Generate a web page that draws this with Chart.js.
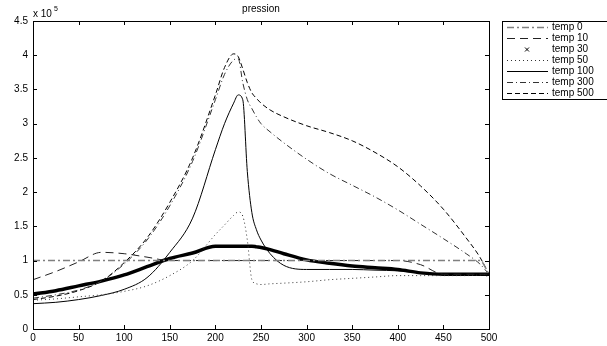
<!DOCTYPE html>
<html>
<head>
<meta charset="utf-8">
<script src="https://cdn.jsdelivr.net/npm/chart.js@4"></script>
<style>
  html, body { margin: 0; padding: 0; background: #fff; }
  #c { display: block; }
</style>
</head>
<body>
<canvas id="c" width="607" height="346"></canvas>
<script>
// abscisse commune (0..500) et pression en unités de 10^5
const xs = [0, 25, 50, 75, 100, 125, 150, 175, 200, 210, 220, 225, 230, 235, 240, 245, 250, 260, 275, 300, 325, 350, 375, 400, 425, 450, 475, 490, 500];

const temp0   = [1, 1, 1, 1, 1, 1, 1, 1, 1, 1, 1, 1, 1, 1, 1, 1, 1, 1, 1, 1, 1, 1, 1, 1, 1, 1, 1, 1, 0.8];
const temp10  = [0.72, 0.84, 0.98, 1.12, 1.1, 1.05, 1.0, 1.0, 1.0, 1.0, 1.0, 1.0, 1.0, 1.0, 1.0, 1.0, 1.0, 1.0, 1.0, 1.0, 1.0, 1.0, 1.0, 1.0, 0.94, 0.8, 0.8, 0.8, 0.8];
const temp30X = [500];
const temp30  = [0.8];
const temp50  = [0.42, 0.44, 0.47, 0.5, 0.55, 0.63, 0.78, 1.0, 1.38, 1.52, 1.66, 1.71, 1.65, 1.3, 0.72, 0.66, 0.65, 0.66, 0.67, 0.69, 0.72, 0.74, 0.76, 0.78, 0.78, 0.78, 0.78, 0.79, 0.8];
const temp100 = [0.37, 0.39, 0.43, 0.49, 0.58, 0.75, 1.12, 1.62, 2.62, 3.0, 3.3, 3.42, 3.35, 2.3, 1.7, 1.45, 1.3, 1.1, 0.93, 0.87, 0.87, 0.87, 0.86, 0.85, 0.82, 0.8, 0.8, 0.8, 0.8];
const temp300 = [0.45, 0.5, 0.57, 0.7, 0.95, 1.3, 1.8, 2.45, 3.35, 3.72, 3.93, 3.95, 3.6, 3.35, 3.22, 3.1, 3.0, 2.88, 2.72, 2.48, 2.27, 2.1, 1.93, 1.74, 1.53, 1.32, 1.1, 0.95, 0.8];
const temp500 = [0.43, 0.48, 0.56, 0.7, 0.97, 1.33, 1.85, 2.5, 3.42, 3.82, 4.02, 3.98, 3.8, 3.6, 3.45, 3.37, 3.3, 3.2, 3.1, 2.97, 2.87, 2.75, 2.58, 2.37, 2.09, 1.75, 1.33, 1.05, 0.8];
const moyenne = [0.51, 0.56, 0.63, 0.7, 0.79, 0.91, 1.03, 1.11, 1.21, 1.21, 1.21, 1.21, 1.21, 1.21, 1.21, 1.2, 1.19, 1.16, 1.1, 1.01, 0.96, 0.92, 0.895, 0.87, 0.82, 0.8, 0.8, 0.8, 0.8];

const xTicks = [0, 50, 100, 150, 200, 250, 300, 350, 400, 450, 500];
const yTicks = [0, 0.5, 1, 1.5, 2, 2.5, 3, 3.5, 4, 4.5];

const FONT = 'Liberation Sans, Arial, Helvetica, sans-serif';

const pts = (ys, xx = xs) => xx.map((x, i) => ({ x, y: ys[i] }));

const line = (label, ys, color, dash, width = 1) => ({
  label,
  data: pts(ys),
  borderColor: color,
  borderDash: dash,
  borderWidth: width,
  pointRadius: 0,
  cubicInterpolationMode: 'monotone',
  fill: false,
});

const datasets = [
  line('temp 0', temp0, '#808080', [7, 3, 2, 3], 1.5),
  line('temp 10', temp10, '#222', [8, 5]),
  {
    label: 'temp 30',
    data: pts(temp30, temp30X),
    showLine: false,
    pointStyle: 'crossRot',
    pointRadius: 3,
    borderColor: '#000',
    borderWidth: 1,
  },
  line('temp 50', temp50, '#333', [1, 3]),
  line('temp 100', temp100, '#000', []),
  line('temp 300', temp300, '#333', [6, 3, 1, 3]),
  line('temp 500', temp500, '#000', [5, 3]),
  { ...line('', moyenne, '#000', [], 3.5), hideLegend: true },
];

// cadre, graduations internes, titre et légende façon MATLAB
const cadre = {
  id: 'cadre',
  afterDraw(chart) {
    const { ctx, chartArea: a, scales } = chart;
    ctx.save();
    ctx.strokeStyle = '#000';
    ctx.lineWidth = 1;
    ctx.strokeRect(a.left + 0.5, a.top + 0.5, a.right - a.left, a.bottom - a.top);
    const t = 4;
    ctx.beginPath();
    xTicks.forEach(v => {
      const px = Math.round(scales.x.getPixelForValue(v)) + 0.5;
      ctx.moveTo(px, a.bottom); ctx.lineTo(px, a.bottom - t);
      ctx.moveTo(px, a.top); ctx.lineTo(px, a.top + t);
    });
    yTicks.forEach(v => {
      const py = Math.round(scales.y.getPixelForValue(v)) + 0.5;
      ctx.moveTo(a.left, py); ctx.lineTo(a.left + t, py);
      ctx.moveTo(a.right, py); ctx.lineTo(a.right - t, py);
    });
    ctx.stroke();

    ctx.fillStyle = '#000';
    ctx.font = '10px ' + FONT;
    ctx.textAlign = 'center';
    ctx.textBaseline = 'middle';
    ctx.fillText('pression', (a.left + a.right) / 2, 9);
    ctx.textAlign = 'left';
    ctx.fillText('x 10', a.left, 14);
    ctx.font = '7px ' + FONT;
    ctx.fillText('5', a.left + 21, 9);

    // légende
    const lx = 502, ly = 21, rowH = 11;
    const items = chart.data.datasets.filter(d => !d.hideLegend);
    ctx.fillStyle = '#fff';
    ctx.fillRect(lx, ly, 120, items.length * rowH + 1);
    ctx.strokeRect(lx + 0.5, ly + 0.5, 120, items.length * rowH + 1);
    ctx.font = '10px ' + FONT;
    items.forEach((d, i) => {
      const y = ly + 6 + i * rowH + 0.5;
      ctx.strokeStyle = d.borderColor;
      ctx.fillStyle = '#000';
      if (d.showLine === false) {
        const cx = 527, r = 2;
        ctx.setLineDash([]);
        ctx.beginPath();
        ctx.moveTo(cx - r, y - r); ctx.lineTo(cx + r, y + r);
        ctx.moveTo(cx - r, y + r); ctx.lineTo(cx + r, y - r);
        ctx.stroke();
      } else {
        ctx.setLineDash(d.borderDash || []);
        ctx.lineWidth = d.borderWidth;
        ctx.beginPath();
        ctx.moveTo(507, y); ctx.lineTo(548, y);
        ctx.stroke();
        ctx.lineWidth = 1;
      }
      ctx.setLineDash([]);
      ctx.fillText(d.label, 552, y);
    });
    ctx.restore();
  }
};

new Chart(document.getElementById('c'), {
  type: 'line',
  data: { datasets },
  options: {
    responsive: false,
    animation: false,
    layout: { padding: { top: 21, right: 118, left: 0, bottom: 0 } },
    plugins: { legend: { display: false }, title: { display: false }, tooltip: { enabled: false } },
    scales: {
      x: {
        type: 'linear',
        min: 0, max: 500,
        afterBuildTicks: s => { s.ticks = xTicks.map(value => ({ value })); },
        afterFit: s => { s.height = 17; },
        grid: { display: false, drawTicks: false },
        border: { display: false },
        ticks: { color: '#000', font: { size: 10, family: FONT }, padding: 3, maxRotation: 0 },
      },
      y: {
        min: 0, max: 4.5,
        afterBuildTicks: s => { s.ticks = yTicks.map(value => ({ value })); },
        afterFit: s => { s.width = 33; },
        grid: { display: false, drawTicks: false },
        border: { display: false },
        ticks: { color: '#000', font: { size: 10, family: FONT }, padding: 5, callback: v => String(v) },
      },
    },
  },
  plugins: [cadre],
});
</script>
</body>
</html>
